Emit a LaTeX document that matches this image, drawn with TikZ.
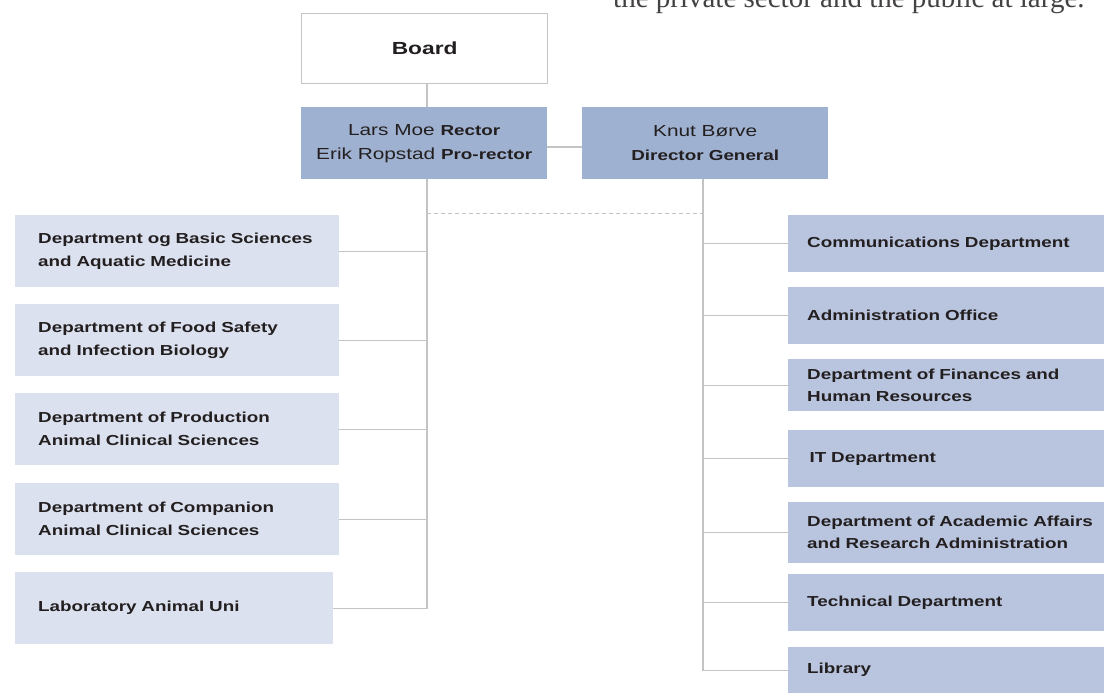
\documentclass[tikz,border=0pt]{standalone}
\usepackage{fontspec}
\newfontfamily\hv{Liberation Sans}[FakeStretch=1.3]
\newfontfamily\tms{Liberation Serif}
\definecolor{lcol}{HTML}{DBE1EE}
\definecolor{rcol}{HTML}{B9C5DE}
\definecolor{tcol}{HTML}{9FB1D0}
\definecolor{txt}{HTML}{231F20}
\definecolor{lncol}{HTML}{C4C4C4}
\begin{document}
\begin{tikzpicture}[x=1pt,y=-1pt,
  conn/.style={draw=lncol, line width=1.3pt},
  lbox/.style={rectangle, fill=lcol, text=txt, anchor=north west, align=left,
    font=\hv\bfseries\fontsize{14.5}{23}\selectfont, inner xsep=23pt, inner ysep=0pt,
    text width=278pt, minimum height=72pt},
  rbox/.style={rectangle, fill=none, text=txt, anchor=north west, align=left,
    font=\hv\bfseries\fontsize{14.5}{22}\selectfont, inner xsep=19pt, inner ysep=0pt,
    text width=320pt, minimum height=#1},
  topbox/.style={rectangle, fill=tcol, text=txt, anchor=north west, align=center,
    font=\hv\fontsize{16}{24}\selectfont, inner sep=0pt,
    minimum width=246pt, minimum height=72pt},
  bfs/.style={}
]
\useasboundingbox (0,0) rectangle (1104,693);

\node[anchor=base west, font=\tms\fontsize{29}{29}\selectfont, text=txt!85, inner sep=0pt]
  (cut) at (613,7.5) {the private sector and the public at large.};

\node[rectangle, draw=lncol, line width=1.3pt, fill=white, anchor=north west,
  minimum width=246pt, minimum height=70pt, inner sep=0pt, text=txt,
  font=\hv\bfseries\fontsize{17.5}{20}\selectfont] (board) at (301,13) {Board};

\node[topbox] (rector) at (301,107) {Lars Moe {\bfseries\fontsize{14.5}{24}\selectfont Rector}\\
  Erik Ropstad {\bfseries\fontsize{14.5}{24}\selectfont Pro-rector}};
\node[topbox] (dg) at (582,107) {Knut Børve\\
  {\bfseries\fontsize{14.5}{24}\selectfont Director General}};

% left departments
\node[lbox] (d1) at (15,215) {Department og Basic Sciences\\and Aquatic Medicine};
\node[lbox] (d2) at (15,304) {Department of Food Safety\\and Infection Biology};
\node[lbox] (d3) at (15,393) {Department of Production\\Animal Clinical Sciences};
\node[lbox] (d4) at (15,483) {Department of Companion\\Animal Clinical Sciences};
\node[lbox, text width=272pt] (d5) at (15,572) {Laboratory Animal Uni};

% right department boxes (shapes) and their texts
\foreach \y/\h in {215/57, 287/57, 359/52, 430/57, 502/61, 574/57, 647/46}{
  \path[fill=rcol] (788,\y) rectangle (1104,\y+\h);
}
\node[rbox=57pt] (r1) at (788,215) {Communications Department};
\node[rbox=57pt] (r2) at (788,287) {Administration Office};
\node[rbox=52pt] (r3) at (788,359) {Department of Finances and\\Human Resources};
\node[rbox=57pt] (r4) at (788,430) {\,IT Department};
\node[rbox=61pt] (r5) at (788,502) {Department of Academic Affairs\\and Research Administration};
\node[rbox=57pt] (r6) at (788,574) {Technical Department};
\node[rbox=46pt] (r7) at (788,647) {Library};

% helper coordinates
\coordinate (lx) at (427,0);
\coordinate (rx) at (703,0);
\coordinate (hy) at (0,147);
\coordinate (dy) at (0,213);

% connectors
\draw[conn] (board.south -| lx) -- (rector.north -| lx);
\draw[conn] (rector.east |- hy) -- (dg.west |- hy);
\draw[conn] (rector.south -| lx) -- (d5.east -| lx) -- (d5.east);
\foreach \n in {d1,d2,d3,d4}{\draw[conn] (\n.east) -- (\n.east -| lx);}
\draw[conn] (dg.south -| rx) -- (r7.west -| rx) -- (r7.west);
\foreach \n in {r1,r2,r3,r4,r5,r6}{\draw[conn] (\n.west) -- (\n.west -| rx);}
\draw[draw=lncol, line width=1pt, dash pattern=on 4pt off 3pt] (lx |- dy) -- (rx |- dy);
\end{tikzpicture}
\end{document}
